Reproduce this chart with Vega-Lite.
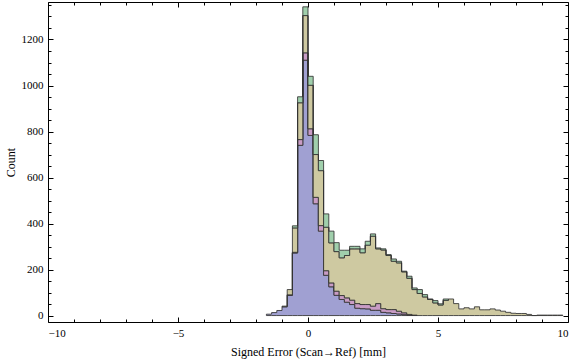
{
  "$schema": "https://vega.github.io/schema/vega-lite/v6.json",
  "autosize": {"type": "none"},
  "padding": {"left": 48, "top": 2, "right": 8, "bottom": 40},
  "width": 520,
  "height": 320,
  "config": {
    "view": {"stroke": "#000000", "strokeWidth": 1},
    "font": "Liberation Serif",
    "axis": {"grid": false, "domain": false, "labelFont": "Liberation Serif", "titleFont": "Liberation Serif", "labelColor": "#000000", "titleColor": "#000000", "tickColor": "#000000", "titleFontWeight": "normal", "labelFontSize": 11, "titleFontSize": 12}
  },
  "data": {"values": [
    {"x": -1.6, "s": "a", "o": 1, "n": 6},
    {"x": -1.4, "s": "a", "o": 1, "n": 13},
    {"x": -1.2, "s": "a", "o": 1, "n": 22},
    {"x": -1.0, "s": "a", "o": 1, "n": 38},
    {"x": -0.8, "s": "a", "o": 1, "n": 88},
    {"x": -0.6, "s": "a", "o": 1, "n": 272},
    {"x": -0.4, "s": "a", "o": 1, "n": 740},
    {"x": -0.2, "s": "a", "o": 1, "n": 1110},
    {"x": 0.0, "s": "a", "o": 1, "n": 783},
    {"x": 0.2, "s": "a", "o": 1, "n": 486},
    {"x": 0.4, "s": "a", "o": 1, "n": 367},
    {"x": 0.6, "s": "a", "o": 1, "n": 175},
    {"x": 0.8, "s": "a", "o": 1, "n": 125},
    {"x": 1.0, "s": "a", "o": 1, "n": 88},
    {"x": 1.2, "s": "a", "o": 1, "n": 70},
    {"x": 1.4, "s": "a", "o": 1, "n": 58},
    {"x": 1.6, "s": "a", "o": 1, "n": 48},
    {"x": 1.8, "s": "a", "o": 1, "n": 32},
    {"x": 2.0, "s": "a", "o": 1, "n": 30},
    {"x": 2.2, "s": "a", "o": 1, "n": 29},
    {"x": 2.4, "s": "a", "o": 1, "n": 23},
    {"x": 2.6, "s": "a", "o": 1, "n": 23},
    {"x": 2.8, "s": "a", "o": 1, "n": 14},
    {"x": 3.0, "s": "a", "o": 1, "n": 12},
    {"x": 3.2, "s": "a", "o": 1, "n": 9},
    {"x": 3.4, "s": "a", "o": 1, "n": 7},
    {"x": 3.6, "s": "a", "o": 1, "n": 4},
    {"x": 3.8, "s": "a", "o": 1, "n": 1},
    {"x": 4.0, "s": "a", "o": 1, "n": 0},
    {"x": -0.8, "s": "b", "o": 2, "n": 2},
    {"x": -0.6, "s": "b", "o": 2, "n": 3},
    {"x": -0.4, "s": "b", "o": 2, "n": 25},
    {"x": -0.2, "s": "b", "o": 2, "n": 32},
    {"x": 0.0, "s": "b", "o": 2, "n": 29},
    {"x": 0.2, "s": "b", "o": 2, "n": 28},
    {"x": 0.4, "s": "b", "o": 2, "n": 24},
    {"x": 0.6, "s": "b", "o": 2, "n": 20},
    {"x": 0.8, "s": "b", "o": 2, "n": 17},
    {"x": 1.0, "s": "b", "o": 2, "n": 18},
    {"x": 1.2, "s": "b", "o": 2, "n": 17},
    {"x": 1.4, "s": "b", "o": 2, "n": 19},
    {"x": 1.6, "s": "b", "o": 2, "n": 19},
    {"x": 1.8, "s": "b", "o": 2, "n": 20},
    {"x": 2.0, "s": "b", "o": 2, "n": 18},
    {"x": 2.2, "s": "b", "o": 2, "n": 19},
    {"x": 2.4, "s": "b", "o": 2, "n": 18},
    {"x": 2.6, "s": "b", "o": 2, "n": 29},
    {"x": 2.8, "s": "b", "o": 2, "n": 16},
    {"x": 3.0, "s": "b", "o": 2, "n": 14},
    {"x": 3.2, "s": "b", "o": 2, "n": 17},
    {"x": 3.4, "s": "b", "o": 2, "n": 12},
    {"x": 3.6, "s": "b", "o": 2, "n": 8},
    {"x": 3.8, "s": "b", "o": 2, "n": 4},
    {"x": 4.0, "s": "b", "o": 2, "n": 2},
    {"x": 4.2, "s": "b", "o": 2, "n": 0},
    {"x": -1.0, "s": "c", "o": 3, "n": 3},
    {"x": -0.8, "s": "c", "o": 3, "n": 23},
    {"x": -0.6, "s": "c", "o": 3, "n": 106},
    {"x": -0.4, "s": "c", "o": 3, "n": 160},
    {"x": -0.2, "s": "c", "o": 3, "n": 162},
    {"x": 0.0, "s": "c", "o": 3, "n": 189},
    {"x": 0.2, "s": "c", "o": 3, "n": 186},
    {"x": 0.4, "s": "c", "o": 3, "n": 239},
    {"x": 0.6, "s": "c", "o": 3, "n": 189},
    {"x": 0.8, "s": "c", "o": 3, "n": 174},
    {"x": 1.0, "s": "c", "o": 3, "n": 172},
    {"x": 1.2, "s": "c", "o": 3, "n": 164},
    {"x": 1.4, "s": "c", "o": 3, "n": 184},
    {"x": 1.6, "s": "c", "o": 3, "n": 223},
    {"x": 1.8, "s": "c", "o": 3, "n": 238},
    {"x": 2.0, "s": "c", "o": 3, "n": 225},
    {"x": 2.2, "s": "c", "o": 3, "n": 258},
    {"x": 2.4, "s": "c", "o": 3, "n": 304},
    {"x": 2.6, "s": "c", "o": 3, "n": 238},
    {"x": 2.8, "s": "c", "o": 3, "n": 255},
    {"x": 3.0, "s": "c", "o": 3, "n": 235},
    {"x": 3.2, "s": "c", "o": 3, "n": 210},
    {"x": 3.4, "s": "c", "o": 3, "n": 210},
    {"x": 3.6, "s": "c", "o": 3, "n": 178},
    {"x": 3.8, "s": "c", "o": 3, "n": 157},
    {"x": 4.0, "s": "c", "o": 3, "n": 111},
    {"x": 4.2, "s": "c", "o": 3, "n": 96},
    {"x": 4.4, "s": "c", "o": 3, "n": 81},
    {"x": 4.6, "s": "c", "o": 3, "n": 70},
    {"x": 4.8, "s": "c", "o": 3, "n": 55},
    {"x": 5.0, "s": "c", "o": 3, "n": 46},
    {"x": 5.2, "s": "c", "o": 3, "n": 66},
    {"x": 5.4, "s": "c", "o": 3, "n": 72},
    {"x": 5.6, "s": "c", "o": 3, "n": 52},
    {"x": 5.8, "s": "c", "o": 3, "n": 29},
    {"x": 6.0, "s": "c", "o": 3, "n": 34},
    {"x": 6.2, "s": "c", "o": 3, "n": 29},
    {"x": 6.4, "s": "c", "o": 3, "n": 38},
    {"x": 6.6, "s": "c", "o": 3, "n": 25},
    {"x": 6.8, "s": "c", "o": 3, "n": 25},
    {"x": 7.0, "s": "c", "o": 3, "n": 29},
    {"x": 7.2, "s": "c", "o": 3, "n": 24},
    {"x": 7.4, "s": "c", "o": 3, "n": 19},
    {"x": 7.6, "s": "c", "o": 3, "n": 14},
    {"x": 7.8, "s": "c", "o": 3, "n": 10},
    {"x": 8.0, "s": "c", "o": 3, "n": 9},
    {"x": 8.2, "s": "c", "o": 3, "n": 9},
    {"x": 8.4, "s": "c", "o": 3, "n": 5},
    {"x": 8.6, "s": "c", "o": 3, "n": 0},
    {"x": 8.8, "s": "c", "o": 3, "n": 2},
    {"x": 9.0, "s": "c", "o": 3, "n": 2},
    {"x": 9.2, "s": "c", "o": 3, "n": 2},
    {"x": 9.4, "s": "c", "o": 3, "n": 2},
    {"x": 9.6, "s": "c", "o": 3, "n": 2},
    {"x": 9.8, "s": "c", "o": 3, "n": 0},
    {"x": -0.6, "s": "d", "o": 4, "n": 9},
    {"x": -0.4, "s": "d", "o": 4, "n": 26},
    {"x": -0.2, "s": "d", "o": 4, "n": 38},
    {"x": 0.0, "s": "d", "o": 4, "n": 39},
    {"x": 0.2, "s": "d", "o": 4, "n": 86},
    {"x": 0.4, "s": "d", "o": 4, "n": 44},
    {"x": 0.6, "s": "d", "o": 4, "n": 58},
    {"x": 0.8, "s": "d", "o": 4, "n": 51},
    {"x": 1.0, "s": "d", "o": 4, "n": 39},
    {"x": 1.2, "s": "d", "o": 4, "n": 33},
    {"x": 1.4, "s": "d", "o": 4, "n": 23},
    {"x": 1.6, "s": "d", "o": 4, "n": 11},
    {"x": 1.8, "s": "d", "o": 4, "n": 11},
    {"x": 2.0, "s": "d", "o": 4, "n": 17},
    {"x": 2.2, "s": "d", "o": 4, "n": 17},
    {"x": 2.4, "s": "d", "o": 4, "n": 10},
    {"x": 2.6, "s": "d", "o": 4, "n": 4},
    {"x": 2.8, "s": "d", "o": 4, "n": 5},
    {"x": 3.0, "s": "d", "o": 4, "n": 4},
    {"x": 3.2, "s": "d", "o": 4, "n": 10},
    {"x": 3.4, "s": "d", "o": 4, "n": 7},
    {"x": 3.6, "s": "d", "o": 4, "n": 3},
    {"x": 3.8, "s": "d", "o": 4, "n": 9},
    {"x": 4.0, "s": "d", "o": 4, "n": 7},
    {"x": 4.2, "s": "d", "o": 4, "n": 17},
    {"x": 4.4, "s": "d", "o": 4, "n": 10},
    {"x": 4.6, "s": "d", "o": 4, "n": 2},
    {"x": 4.8, "s": "d", "o": 4, "n": 10},
    {"x": 5.0, "s": "d", "o": 4, "n": 5},
    {"x": 5.2, "s": "d", "o": 4, "n": 6},
    {"x": 5.4, "s": "d", "o": 4, "n": 0}
  ]},
  "transform": [
    {"stack": "n", "groupby": ["x"], "sort": [{"field": "o", "order": "ascending"}], "as": ["y0", "y1"]}
  ],
  "resolve": {"axis": {"x": "independent", "y": "independent"}},
  "layer": [
    {
      "mark": {"type": "area", "interpolate": "step-after", "stroke": "#333333", "strokeWidth": 1, "strokeOpacity": 0.85, "fillOpacity": 1},
      "encoding": {
        "x": {"field": "x", "type": "quantitative", "scale": {"domain": [-10, 10], "nice": false, "zero": false},
              "axis": {"orient": "bottom", "values": [-10, -5, 0, 5, 10], "ticks": false, "labelPadding": 5, "title": "Signed Error (Scan→Ref) [mm]", "titlePadding": 8, "format": "d"}},
        "y": {"field": "y1", "type": "quantitative", "scale": {"domain": [-28, 1363], "nice": false, "zero": false},
              "axis": {"orient": "left", "values": [0, 200, 400, 600, 800, 1000, 1200], "ticks": false, "labelPadding": 5, "title": "Count", "titlePadding": 4, "format": "d"}},
        "y2": {"field": "y0"},
        "color": {"field": "s", "type": "nominal", "legend": null,
                  "scale": {"domain": ["a", "b", "c", "d"], "range": ["#A0A0D2", "#C99CC5", "#CEC9A1", "#A0CFAC"]}},
        "order": {"field": "o", "type": "quantitative"}
      }
    },
    {
      "mark": {"type": "point", "opacity": 0},
      "encoding": {
        "x": {"field": "x", "type": "quantitative", "axis": {"orient": "bottom", "values": [-10, -5, 0, 5, 10], "tickSize": -5, "labels": false, "title": null}},
        "y": {"field": "y1", "type": "quantitative", "axis": {"orient": "left", "values": [0, 200, 400, 600, 800, 1000, 1200], "tickSize": -5, "labels": false, "title": null}}
      }
    },
    {
      "mark": {"type": "point", "opacity": 0},
      "encoding": {
        "x": {"field": "x", "type": "quantitative", "axis": {"orient": "bottom", "values": [-9, -8, -7, -6, -4, -3, -2, -1, 1, 2, 3, 4, 6, 7, 8, 9], "tickSize": -3, "labels": false, "title": null}},
        "y": {"field": "y1", "type": "quantitative", "axis": {"orient": "left", "values": [50, 100, 150, 250, 300, 350, 450, 500, 550, 650, 700, 750, 850, 900, 950, 1050, 1100, 1150, 1250, 1300, 1350], "tickSize": -3, "labels": false, "title": null}}
      }
    },
    {
      "mark": {"type": "point", "opacity": 0},
      "encoding": {
        "x": {"field": "x", "type": "quantitative", "axis": {"orient": "top", "values": [-10, -5, 0, 5, 10], "tickSize": -5, "labels": false, "title": null}},
        "y": {"field": "y1", "type": "quantitative", "axis": {"orient": "right", "values": [0, 200, 400, 600, 800, 1000, 1200], "tickSize": -5, "labels": false, "title": null}}
      }
    },
    {
      "mark": {"type": "point", "opacity": 0},
      "encoding": {
        "x": {"field": "x", "type": "quantitative", "axis": {"orient": "top", "values": [-9, -8, -7, -6, -4, -3, -2, -1, 1, 2, 3, 4, 6, 7, 8, 9], "tickSize": -3, "labels": false, "title": null}},
        "y": {"field": "y1", "type": "quantitative", "axis": {"orient": "right", "values": [50, 100, 150, 250, 300, 350, 450, 500, 550, 650, 700, 750, 850, 900, 950, 1050, 1100, 1150, 1250, 1300, 1350], "tickSize": -3, "labels": false, "title": null}}
      }
    }
  ]
}
